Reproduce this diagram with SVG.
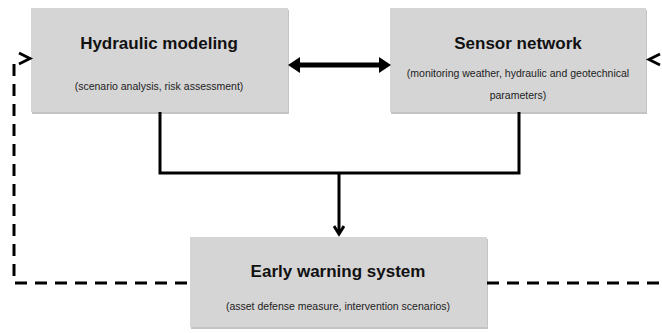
<svg xmlns="http://www.w3.org/2000/svg" width="662" height="333" viewBox="0 0 662 333">
<style>
.box{fill:#d5d5d5}
.shadow{fill:#c4c4c4}
.title{font-family:"Liberation Sans",Arial,sans-serif;font-weight:bold;font-size:17px;fill:#111;text-anchor:middle}
.sub{font-family:"Liberation Sans",Arial,sans-serif;font-size:10.5px;fill:#222;text-anchor:middle}
.solid{stroke:#000;stroke-width:3;fill:none}
.dash{stroke:#000;stroke-width:3;fill:none;stroke-dasharray:12 8}
.head{fill:none;stroke:#000;stroke-width:2.8}
</style>
<defs>
<marker id="ah" markerWidth="12" markerHeight="12" refX="9" refY="6" orient="auto" markerUnits="userSpaceOnUse">
<path d="M1,1 L9,6 L1,11" fill="none" stroke="#000" stroke-width="3"/>
</marker>
</defs>
<rect width="662" height="333" fill="#fff"/>
<g id="hydraulic">
<rect class="shadow" x="32" y="10" width="257" height="104"/>
<rect class="box" x="31" y="8" width="257" height="104"/>
<text class="title" x="159" y="49">Hydraulic modeling</text>
<text class="sub" x="159" y="90">(scenario analysis, risk assessment)</text>
</g>
<g id="sensor">
<rect class="shadow" x="391" y="10" width="256" height="104"/>
<rect class="box" x="390" y="8" width="256" height="104"/>
<text class="title" x="518" y="49">Sensor network</text>
<text class="sub" x="518" y="77">(monitoring weather, hydraulic and geotechnical</text>
<text class="sub" x="518" y="99">parameters)</text>
</g>
<g id="early">
<rect class="shadow" x="191" y="239" width="297" height="90"/>
<rect class="box" x="190" y="237" width="297" height="90"/>
<text class="title" x="338" y="277">Early warning system</text>
<text class="sub" x="338" y="310">(asset defense measure, intervention scenarios)</text>
</g>
<g id="connectors">
<path d="M298,65 L381,65" stroke="#000" stroke-width="5"/>
<path d="M288,65 L300,57 L300,73 Z" fill="#000"/>
<path d="M391,65 L379,57 L379,73 Z" fill="#000"/>
<path class="solid" d="M160,112 V173 H519 V112"/>
<path class="solid" d="M339,173 V234" marker-end="url(#ah)"/>
<path class="dash" d="M14,64 V283 H190"/>
<path class="head" d="M19,53 L30,58.5 L19,64"/>
<path class="dash" d="M487,283 H670"/>
<path class="head" d="M660,54 L649,59.5 L660,65"/>
</g>
</svg>
